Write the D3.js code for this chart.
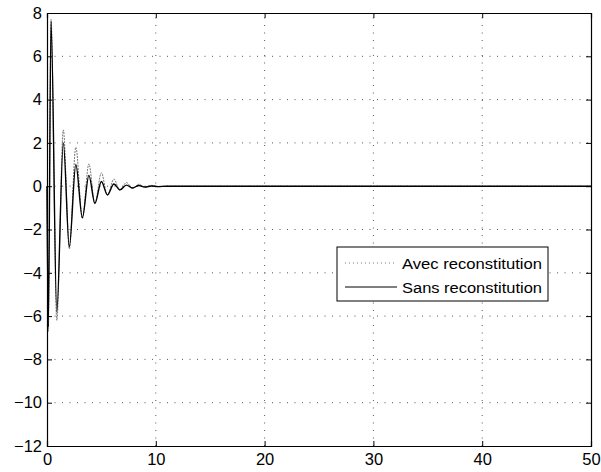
<!DOCTYPE html>
<html><head><meta charset="utf-8">
<script src="https://cdn.jsdelivr.net/npm/d3@7"></script>
<style>
body{margin:0;background:#fff;}
svg{display:block;font-family:"Liberation Sans",Arial,Helvetica,sans-serif;}
</style></head>
<body><div id="chart"></div>
<script>
// Time points of extrema (s) and values
const timesAvec = [0, 0.12, 0.37, 0.9, 1.5, 2.05, 2.65, 3.25, 3.85, 4.4, 5.0, 5.55, 6.15, 6.7, 7.3, 7.85, 8.45, 9.0, 9.6, 10.2, 11, 50];
const valuesAvec = [0, -6.7, 7.7, -6.2, 2.6, -2.9, 1.8, -1.5, 1.03, -0.8, 0.62, -0.42, 0.33, -0.2, 0.17, -0.1, 0.09, -0.05, 0.04, -0.02, 0, 0];
const timesSans = [0, 0.12, 0.37, 0.9, 1.5, 2.05, 2.65, 3.25, 3.85, 4.4, 5.0, 5.55, 6.15, 6.7, 7.3, 7.85, 8.45, 9.0, 9.6, 10.2, 11, 50];
const valuesSans = [0, -6.5, 7.6, -5.8, 2.0, -2.8, 1.0, -1.45, 0.5, -0.8, 0.22, -0.4, 0.1, -0.17, 0.05, -0.08, 0.03, -0.04, 0.01, -0.02, 0, 0];
const xTicks = [0, 10, 20, 30, 40, 50];
const yTicks = [-12, -10, -8, -6, -4, -2, 0, 2, 4, 6, 8];
const seriesNames = ["Avec reconstitution", "Sans reconstitution"];

const W = 601, H = 472;
const m = {left: 47, right: 10, top: 13, bottom: 26};
const svg = d3.select("#chart").append("svg").attr("width", W).attr("height", H);
const x = d3.scaleLinear().domain([0, 50]).range([m.left, W - m.right]);
const y = d3.scaleLinear().domain([-12, 8]).range([H - m.bottom, m.top]);

// grid
const g = svg.append("g");
g.selectAll(".gx").data(xTicks.slice(1, -1)).join("line")
  .attr("x1", d => x(d)).attr("x2", d => x(d)).attr("y1", y(-12)).attr("y2", y(8))
  .attr("stroke", "#444").attr("stroke-width", 0.9).attr("stroke-dasharray", "1,6.5");
g.selectAll(".gy").data(yTicks.slice(1, -1)).join("line")
  .attr("y1", d => y(d)).attr("y2", d => y(d)).attr("x1", x(0)).attr("x2", x(50))
  .attr("stroke", "#444").attr("stroke-width", 0.9).attr("stroke-dasharray", "1,6.5");

// lines
const line = d3.line().x(d => x(d[0])).y(d => y(d[1])).curve(d3.curveMonotoneX);
const avec = timesAvec.map((t, i) => [t, valuesAvec[i]]);
const sans = timesSans.map((t, i) => [t, valuesSans[i]]);
svg.append("path").datum(avec).attr("d", line).attr("fill", "none")
  .attr("stroke", "#777").attr("stroke-width", 1).attr("stroke-dasharray", "2,1");
svg.append("path").datum(sans).attr("d", line).attr("fill", "none")
  .attr("stroke", "#000").attr("stroke-width", 1.4);

// axes (MATLAB-style inward ticks, box)
const axB = d3.axisBottom(x).tickValues(xTicks).tickSize(-5).tickPadding(7).tickFormat(d3.format("d"));
const axL = d3.axisLeft(y).tickValues(yTicks).tickSize(-5).tickPadding(5).tickFormat(d3.format("d"));
const axT = d3.axisTop(x).tickValues(xTicks).tickSize(-5).tickFormat("");
const axR = d3.axisRight(y).tickValues(yTicks).tickSize(-5).tickFormat("");
[[axB, `translate(0,${y(-12)})`], [axL, `translate(${x(0)},0)`], [axT, `translate(0,${y(8)})`], [axR, `translate(${x(50)},0)`]]
  .forEach(([a, tr]) => {
    const ag = svg.append("g").attr("transform", tr).call(a);
    ag.selectAll("path").attr("stroke", "#000").attr("stroke-width", 1.2);
    ag.selectAll("line").attr("stroke", "#000");
    ag.selectAll("text").attr("font-size", 16.5).attr("fill", "#000")
      .attr("font-family", "\"Liberation Sans\",Arial,sans-serif");
  });

// legend
const lg = svg.append("g");
lg.append("rect").attr("x", 337).attr("y", 247).attr("width", 211).attr("height", 54)
  .attr("fill", "#fff").attr("stroke", "#000").attr("stroke-width", 1);
const styles = [{stroke: "#777", dash: "1,3", w: 1}, {stroke: "#000", dash: null, w: 1}];
seriesNames.forEach((name, i) => {
  const yy = 263 + i * 24;
  lg.append("line").attr("x1", 345).attr("x2", 397).attr("y1", yy).attr("y2", yy)
    .attr("stroke", styles[i].stroke).attr("stroke-width", styles[i].w)
    .attr("stroke-dasharray", styles[i].dash);
  lg.append("text").attr("x", 402).attr("y", yy + 5.5).attr("font-size", 15.5)
    .attr("textLength", 140).attr("lengthAdjust", "spacingAndGlyphs")
    .attr("fill", "#000").text(name);
});
</script></body></html>
